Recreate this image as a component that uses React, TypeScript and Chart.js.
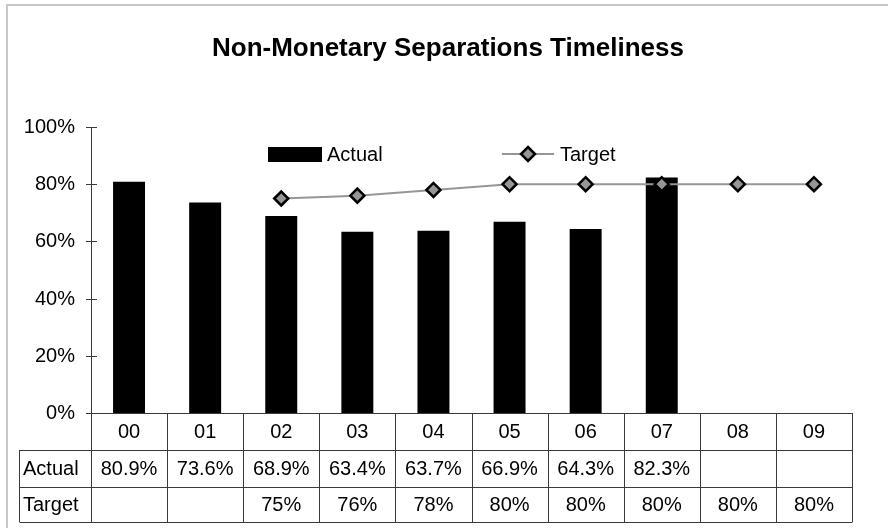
import React, { useEffect, useRef } from "react";
import { Chart, registerables } from "chart.js";

Chart.register(...registerables);

const categories = ["00", "01", "02", "03", "04", "05", "06", "07", "08", "09"];
const actualValues: (number | null)[] = [80.9, 73.6, 68.9, 63.4, 63.7, 66.9, 64.3, 82.3, null, null];
const targetValues: (number | null)[] = [null, null, 75, 76, 78, 80, 80, 80, 80, 80];
const actualLabels = ["80.9%", "73.6%", "68.9%", "63.4%", "63.7%", "66.9%", "64.3%", "82.3%", "", ""];
const targetLabels = ["", "", "75%", "76%", "78%", "80%", "80%", "80%", "80%", "80%"];
const yTicks = [0, 20, 40, 60, 80, 100];
const yTickLabels = ["0%", "20%", "40%", "60%", "80%", "100%"];
const titleText = "Non-Monetary Separations Timeliness";
const seriesNames = ["Actual", "Target"];

const FONT = "'Liberation Sans', Arial, sans-serif";
const LINE_GRAY = "#969696";
const MARK_GRAY = "#969696";
const EDGE = "#3a3a3a";

const decorPlugin = {
  id: "decor",
  beforeDraw(chart: any) {
    const ctx = chart.ctx;
    ctx.save();
    ctx.fillStyle = "#ffffff";
    ctx.fillRect(0, 0, chart.width, chart.height);
    // outer frame (left + top visible)
    ctx.strokeStyle = "#c8c8c8";
    ctx.lineWidth = 2;
    ctx.beginPath();
    ctx.moveTo(7, chart.height + 5);
    ctx.lineTo(7, 5);
    ctx.lineTo(chart.width + 5, 5);
    ctx.stroke();
    // title
    ctx.fillStyle = "#000";
    ctx.font = `bold 26px ${FONT}`;
    ctx.textAlign = "center";
    ctx.textBaseline = "middle";
    ctx.fillText(titleText, 448, 49);
    ctx.restore();
  },
  afterDatasetsDraw(chart: any) {
    const ctx = chart.ctx;
    const x = chart.scales.x;
    const y = chart.scales.y;
    const area = chart.chartArea;
    ctx.save();
    // y axis
    ctx.strokeStyle = EDGE;
    ctx.lineWidth = 1;
    ctx.beginPath();
    ctx.moveTo(Math.round(area.left) + 0.5, area.top);
    ctx.lineTo(Math.round(area.left) + 0.5, area.bottom);
    ctx.stroke();
    ctx.font = `20px ${FONT}`;
    ctx.fillStyle = "#000";
    ctx.textAlign = "right";
    ctx.textBaseline = "middle";
    yTicks.forEach((v, i) => {
      const py = Math.round(y.getPixelForValue(v)) + 0.5;
      ctx.beginPath();
      ctx.moveTo(area.left - 5, py);
      ctx.lineTo(area.left + 6, py);
      ctx.stroke();
      ctx.fillText(yTickLabels[i], 75, py);
    });

    // data table
    const rowH = [37, 37, 35];
    const top = area.bottom;
    const r1 = top + rowH[0];
    const r2 = r1 + rowH[1];
    const r3 = r2 + rowH[2];
    const left = 19;
    const right = area.right;
    const half = (x.getPixelForValue(1) - x.getPixelForValue(0)) / 2;
    const edges: number[] = [];
    categories.forEach((_, i) => edges.push(Math.round(x.getPixelForValue(i) - half) + 0.5));
    edges.push(Math.round(right) + 0.5);
    ctx.strokeStyle = EDGE;
    ctx.beginPath();
    ctx.moveTo(edges[0], Math.round(top) + 0.5);
    ctx.lineTo(edges[edges.length - 1], Math.round(top) + 0.5);
    [r1, r2, r3].forEach((ry) => {
      ctx.moveTo(left + 0.5, Math.round(ry) + 0.5);
      ctx.lineTo(edges[edges.length - 1], Math.round(ry) + 0.5);
    });
    edges.forEach((ex) => {
      ctx.moveTo(ex, top);
      ctx.lineTo(ex, r3);
    });
    ctx.moveTo(left + 0.5, r1);
    ctx.lineTo(left + 0.5, r3);
    ctx.stroke();

    ctx.fillStyle = "#000";
    ctx.font = `20px ${FONT}`;
    ctx.textBaseline = "middle";
    ctx.textAlign = "center";
    categories.forEach((c, i) => {
      const cx = x.getPixelForValue(i);
      ctx.fillText(c, cx, top + rowH[0] / 2 + 1);
      if (actualLabels[i]) ctx.fillText(actualLabels[i], cx, r1 + rowH[1] / 2 + 1);
      if (targetLabels[i]) ctx.fillText(targetLabels[i], cx, r2 + rowH[2] / 2 + 1);
    });
    ctx.textAlign = "left";
    ctx.fillText(seriesNames[0], 23, r1 + rowH[1] / 2 + 1);
    ctx.fillText(seriesNames[1], 23, r2 + rowH[2] / 2 + 1);

    // legend
    ctx.fillStyle = "#000";
    ctx.fillRect(268, 147, 54, 15);
    ctx.fillText(seriesNames[0], 327, 155);
    ctx.strokeStyle = LINE_GRAY;
    ctx.lineWidth = 2;
    ctx.beginPath();
    ctx.moveTo(502, 154);
    ctx.lineTo(554, 154);
    ctx.stroke();
    ctx.beginPath();
    ctx.moveTo(528, 147);
    ctx.lineTo(535, 154);
    ctx.lineTo(528, 161);
    ctx.lineTo(521, 154);
    ctx.closePath();
    ctx.fillStyle = MARK_GRAY;
    ctx.fill();
    ctx.strokeStyle = "#000";
    ctx.lineWidth = 2.5;
    ctx.stroke();
    ctx.fillStyle = "#000";
    ctx.fillText(seriesNames[1], 560, 155);
    ctx.restore();
  },
};

export default function App() {
  const ref = useRef<HTMLCanvasElement | null>(null);
  useEffect(() => {
    if (!ref.current) return;
    const chart = new Chart(ref.current, {
      type: "bar",
      data: {
        labels: categories,
        datasets: [
          {
            type: "line",
            label: seriesNames[1],
            data: targetValues,
            borderColor: LINE_GRAY,
            borderWidth: 2,
            backgroundColor: MARK_GRAY,
            pointStyle: "rectRot",
            pointRadius: 7,
            pointBorderColor: "#000",
            pointBorderWidth: 2.5,
            pointBackgroundColor: MARK_GRAY,
            spanGaps: false,
            order: 0,
          } as any,
          {
            type: "bar",
            label: seriesNames[0],
            data: actualValues,
            backgroundColor: "#000",
            borderColor: "#333",
            borderWidth: 0,
            barPercentage: 0.42,
            categoryPercentage: 1,
            order: 1,
          },
        ],
      },
      options: {
        responsive: false,
        animation: false,
        events: [],
        layout: { padding: { left: 91, right: 36, top: 127, bottom: 115 } },
        plugins: { legend: { display: false }, title: { display: false }, tooltip: { enabled: false } },
        scales: {
          x: { display: false, offset: true },
          y: { display: false, min: 0, max: 100 },
        },
      },
      plugins: [decorPlugin],
    });
    return () => chart.destroy();
  }, []);
  return (
    <div style={{ position: "fixed", left: 0, top: 0, width: 888, height: 528 }}>
      <canvas ref={ref} width={888} height={528} style={{ width: 888, height: 528 }} />
    </div>
  );
}
